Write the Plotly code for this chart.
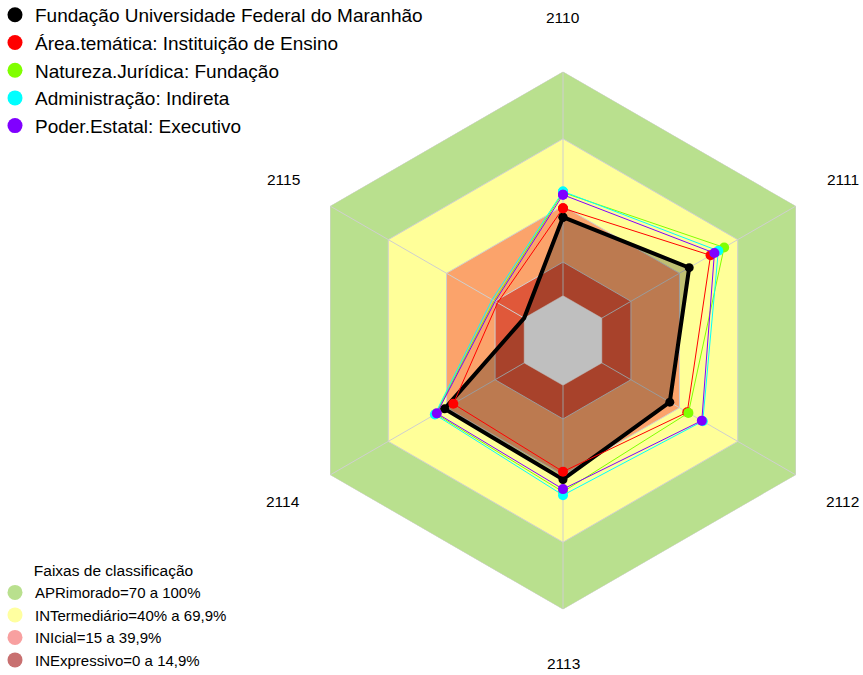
import math
import plotly.graph_objects as go

categories = ["2110", "2111", "2112", "2113", "2114", "2115"]

series_names = [
    "Fundação Universidade Federal do Maranhão",
    "Área.temática: Instituição de Ensino",
    "Natureza.Jurídica: Fundação",
    "Administração: Indireta",
    "Poder.Estatal: Executivo",
]
ufma = [35, 45, 35, 42, 41, 0]
area_tematica = [39, 56, 44, 38.5, 36.5, 13.7]
natureza_juridica = [46, 63, 44.6, 47.5, 45.5, 15.5]
administracao = [46.5, 60, 52, 49, 46, 16.5]
poder_estatal = [45, 58, 51.5, 46.3, 45, 15]
series_values = [ufma, area_tematica, natureza_juridica, administracao, poder_estatal]
series_colors = ["#000000", "#FF0000", "#80FF00", "#00FFFF", "#8000FF"]

band_names = [
    "APRimorado=70 a 100%",
    "INTermediário=40% a 69,9%",
    "INIcial=15 a 39,9%",
    "INExpressivo=0 a 14,9%",
]
band_upper = [100, 70, 40, 15]
band_fill = ["#B9E08E", "#FFFF99", "#FBA36B", "#E0583A"]
band_legend_color = ["#B9E08E", "#FFFFA0", "#F8A0A0", "#C87070"]
center_value = 0
axis_min = -20
label_radius = 124

FONT = "Liberation Sans, Arial, sans-serif"
GRID = "#CFCFCF"

def closed(v):
    return list(v) + [v[0]]

theta_closed = closed(categories)
fig = go.Figure()

# bands
for name, up, col in zip(band_names, band_upper, band_fill):
    fig.add_trace(go.Scatterpolar(
        r=closed([up] * len(categories)), theta=theta_closed,
        mode="lines", fill="toself", fillcolor=col,
        line=dict(color=GRID, width=1), showlegend=False, hoverinfo="skip"))

# spokes
for c in categories:
    fig.add_trace(go.Scatterpolar(
        r=[center_value, band_upper[0]], theta=[c, c], mode="lines",
        line=dict(color=GRID, width=1), showlegend=False, hoverinfo="skip"))

# filled area of the first series
fig.add_trace(go.Scatterpolar(
    r=closed(ufma), theta=theta_closed, mode="lines", fill="toself",
    fillcolor="rgba(0,0,0,0.25)", line=dict(width=0, color="rgba(0,0,0,0)"),
    showlegend=False, hoverinfo="skip"))

# gray center
fig.add_trace(go.Scatterpolar(
    r=closed([center_value] * len(categories)), theta=theta_closed,
    mode="lines", fill="toself", fillcolor="#BFBFBF",
    line=dict(color="#BFBFBF", width=0.5), showlegend=False, hoverinfo="skip"))

# series lines + markers
for i, (name, vals, col) in enumerate(zip(series_names, series_values, series_colors)):
    fig.add_trace(go.Scatterpolar(
        r=closed(vals), theta=theta_closed, mode="lines+markers",
        line=dict(color=col, width=4 if i == 0 else 1),
        marker=dict(color=col, size=9 if i == 0 else 10),
        name=name, showlegend=False))

# legend entries for series
for name, col in zip(series_names, series_colors):
    fig.add_trace(go.Scatterpolar(
        r=[None], theta=[None], mode="markers", name=name,
        marker=dict(color=col, size=15), legend="legend"))

# legend entries for bands
for name, col in zip(band_names, band_legend_color):
    fig.add_trace(go.Scatterpolar(
        r=[None], theta=[None], mode="markers", name=name,
        marker=dict(color=col, size=15), legend="legend2"))

W, H = 863, 675
cx, cy, R = 563, 340.5, 269

# category labels placed outside the polygon, along each spoke
label_px = (label_radius - axis_min) / (band_upper[0] - axis_min) * R
annotations = []
for i, c in enumerate(categories):
    ang = math.radians(90 - i * 360 / len(categories))
    px = cx + label_px * math.cos(ang)
    py = cy - label_px * math.sin(ang)
    annotations.append(dict(
        text=c, x=px / W, y=1 - py / H, xref="paper", yref="paper",
        xanchor="center", yanchor="middle", showarrow=False,
        font=dict(family=FONT, size=15.5, color="#000000")))

fig.update_layout(
    width=W, height=H,
    margin=dict(l=0, r=0, t=0, b=0, autoexpand=False),
    paper_bgcolor="white", plot_bgcolor="white",
    font=dict(family=FONT, color="#000000"),
    annotations=annotations,
    polar=dict(
        domain=dict(x=[(cx - R) / W, (cx + R) / W],
                    y=[(H - cy - R) / H, (H - cy + R) / H]),
        gridshape="linear",
        bgcolor="rgba(0,0,0,0)",
        radialaxis=dict(range=[axis_min, band_upper[0]], visible=False),
        angularaxis=dict(type="category", categoryorder="array",
                         categoryarray=categories, direction="clockwise",
                         rotation=90, showgrid=False, showline=False,
                         showticklabels=False, ticks=""),
    ),
    legend=dict(x=-0.0058, y=1.006, xanchor="left", yanchor="top",
                font=dict(family=FONT, size=19), bgcolor="rgba(0,0,0,0)",
                itemclick=False, tracegroupgap=0),
    legend2=dict(x=-0.0058, y=-0.003, xanchor="left", yanchor="bottom",
                 title=dict(text="Faixas de classificação", side="top center",
                            font=dict(family=FONT, size=15.5)),
                 font=dict(family=FONT, size=15), bgcolor="rgba(0,0,0,0)",
                 itemclick=False, tracegroupgap=0),
)

# remove the default page margin so the figure fills the window exactly
fig.write_html(
    "out.html",
    config={"displayModeBar": False},
    post_script="document.body.style.margin='0';document.body.style.overflow='hidden';",
)
